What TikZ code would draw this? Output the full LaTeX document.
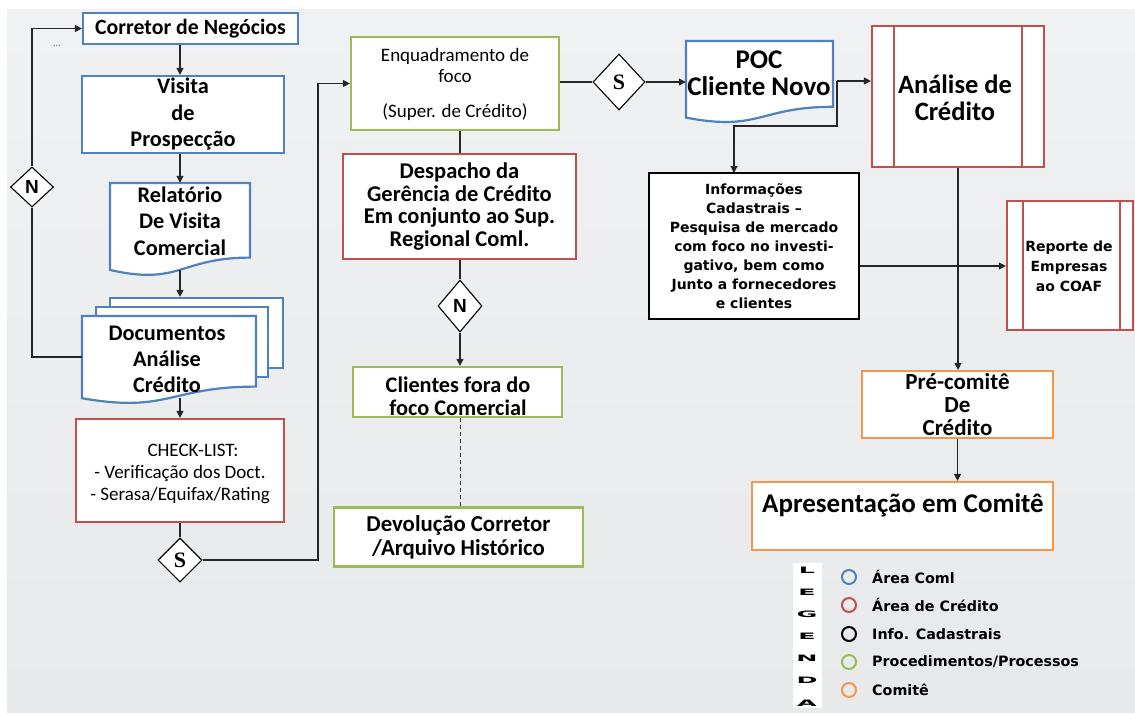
\documentclass[tikz,border=0pt]{standalone}
\usepackage{fontspec}
\setmainfont{Carlito}
\newfontfamily\dvs{DejaVu Sans}
\newfontfamily\lserif{Liberation Serif}
\newfontfamily\lsans{Liberation Sans}
\usetikzlibrary{arrows.meta,shapes.geometric}
\definecolor{bgtop}{HTML}{F0F1F2}
\definecolor{bgbot}{HTML}{E8E9EB}
\definecolor{cblue}{HTML}{4F81BD}
\definecolor{cred}{HTML}{C0504D}
\definecolor{cgreen}{HTML}{9BBB59}
\definecolor{corange}{HTML}{F79646}
\begin{document}
\begin{tikzpicture}[x=1pt,y=-1pt,
  bx/.style={draw=#1, line width=2.2pt, fill=white, inner sep=0pt, align=center},
  ghost/.style={inner sep=0pt, minimum width=#1},
  conn/.style={line width=1.2pt, draw=black!85},
  arr/.style={conn, -{Triangle[length=7pt,width=7pt]}},
  dec/.style={diamond, draw=black, line width=1.1pt, fill=white, inner sep=0pt},
  txt/.style={inner sep=0pt, align=center},
  lgc/.style={circle, draw=#1, line width=2pt, minimum size=14, inner sep=0pt, fill=none},
  lgt/.style={anchor=west, inner sep=0pt, font=\dvs\bfseries\fontsize{14.3}{16}\selectfont},
  lgl/.style={inner sep=0pt, font=\dvs\bfseries\fontsize{11}{11}\selectfont}
]
\useasboundingbox (0,0) rectangle (1135,713);
\fill[white] (0,0) rectangle (1135,713);
\shade[top color=bgtop, bottom color=bgbot] (7,9) rectangle (1135,712);

% ---------- coordinates for routing ----------
\coordinate (colA) at (180,0);
\coordinate (colM) at (460,0);
\coordinate (jx) at (318,0);
\coordinate (pocR) at (837,81);
\coordinate (jy) at (0,126);
\coordinate (infoIn) at (734,173);
\coordinate (jz) at (0,266);
\coordinate (relB) at (180,270);
\coordinate (docB) at (180,398);

% ---------- left column ----------
\node[bx=cblue, minimum width=215, minimum height=31, font=\fontsize{21.8}{24}\selectfont\bfseries] (corretor) at (190.5,28.5) {Corretor de Negócios};
\node[txt, font=\fontsize{10}{10}\selectfont, text=black!60] (dots) at (57,46) {...};

\node[bx=cblue, minimum width=202, minimum height=77, font=\fontsize{22.3}{26.5}\selectfont\bfseries] (visita) at (183,114.5) {Visita\\de\\Prospecção};

% Relatorio (document shape)
\draw[draw=cblue, line width=2.2pt, fill=white] (110,183) -- (250,183) -- (250,257.6) .. controls (180,257.6) and (180,286) .. (110,269.9) -- cycle;
\node[ghost=140, minimum height=93] (relatorio) at (180,229.5) {};
\node[txt, font=\fontsize{22.3}{26.5}\selectfont\bfseries] (relT) at (180,221) {Relatório\\De Visita\\Comercial};

% Documentos (multidocument)
\node[bx=cblue, minimum width=173, minimum height=70] (doc3) at (196.5,333) {};
\node[bx=cblue, minimum width=172, minimum height=70] (doc2) at (182,342) {};
\draw[draw=cblue, line width=2.2pt, fill=white] (82,316) -- (256,316) -- (256,386.6) .. controls (169,386.6) and (169,413.4) .. (82,398.2) -- cycle;
\node[ghost=174, minimum height=82] (documentos) at (169,357) {};
\node[txt, font=\fontsize{22.3}{26}\selectfont\bfseries] (docT) at (167,359) {Documentos\\Análise\\Crédito};

\node[bx=cred, minimum width=208, minimum height=103] (check) at (180,470.5) {};
\node[txt, font=\fontsize{19}{22}\selectfont] (checkT) at (180,474) {\hspace*{26pt}CHECK-LIST:\\- Verificação dos Doct.\\- Serasa/Equifax/Rating};

\node[dec, minimum width=44, minimum height=44, font=\lserif\bfseries\fontsize{22}{22}\selectfont] (sbot) at (180,560) {S};
\node[dec, minimum width=43, minimum height=40, font=\lsans\bfseries\fontsize{19}{19}\selectfont] (nleft) at (32,187) {N};

% ---------- middle column ----------
\node[bx=cgreen, minimum width=208, minimum height=93] (enq) at (455,83.5) {};
\node[txt, font=\fontsize{19}{21}\selectfont] (enqT) at (455,84) {Enquadramento de\\foco\\[14pt](Super. de Crédito)};

\node[dec, minimum width=52, minimum height=56, font=\lserif\bfseries\fontsize{22}{22}\selectfont] (stop) at (619,82) {S};

\node[bx=cred, minimum width=233, minimum height=105, font=\fontsize{22.5}{22.5}\selectfont\bfseries] (despacho) at (459.5,206.5) {Despacho da\\Gerência de Crédito\\Em conjunto ao Sup.\\Regional Coml.};

\node[dec, minimum width=44, minimum height=52, font=\lsans\bfseries\fontsize{19}{19}\selectfont] (nmid) at (460,306) {N};

\node[bx=cgreen, minimum width=209, minimum height=50] (clientes) at (457.5,392) {};
\node[txt, font=\fontsize{22.3}{23}\selectfont\bfseries] (cliT) at (458,396.5) {Clientes fora do\\foco Comercial};

\node[bx=cgreen, minimum width=249, minimum height=59, font=\fontsize{22.8}{24}\selectfont\bfseries] (devol) at (458.5,537) {Devolução Corretor\\/Arquivo Histórico};

% ---------- right part ----------
\draw[draw=cblue, line width=2.2pt, fill=white] (686,41) -- (833,41) -- (833,106.8) .. controls (759.5,106.8) and (759.5,131.8) .. (686,117.6) -- cycle;
\node[ghost=147, minimum height=77] (poc) at (759.5,79.5) {};
\node[txt, font=\fontsize{27}{27}\selectfont\bfseries] (pocT) at (759,73.5) {POC\\Cliente Novo};

\node[bx=cred, minimum width=172, minimum height=141] (analise) at (958,96.5) {};
\draw[draw=cred, line width=2.2pt] (894,26) -- (894,167) (1022,26) -- (1022,167);
\node[txt, font=\fontsize{26.5}{27}\selectfont\bfseries] (anaT) at (955,97.5) {Análise de\\Crédito};

\node[bx=black, minimum width=210, minimum height=146, font=\dvs\bfseries\fontsize{14}{19}\selectfont] (info) at (754,246) {Informações\\Cadastrais –\\Pesquisa de mercado\\com foco no investi-\\gativo, bem como\\Junto a fornecedores\\e clientes};

\node[bx=cred, minimum width=126, minimum height=129] (reporte) at (1070,265.5) {};
\draw[draw=cred, line width=2.2pt] (1023,201) -- (1023,330) (1120,201) -- (1120,330);
\node[txt, font=\dvs\bfseries\fontsize{14}{20}\selectfont] (repT) at (1069,266) {Reporte de\\Empresas\\ao COAF};

\node[bx=corange, minimum width=191, minimum height=67, font=\fontsize{23}{23}\selectfont\bfseries] (pre) at (957.5,404.5) {Pré-comitê\\De\\Crédito};

\node[bx=corange, minimum width=301, minimum height=68] (apres) at (902.5,516) {};
\node[txt, font=\fontsize{27}{28}\selectfont\bfseries] (apresT) at (903,505) {Apresentação em Comitê};

% ---------- connectors ----------
\draw[arr] (corretor.south -| colA) -- (visita.north -| colA);
\draw[arr] (visita.south -| colA) -- (relatorio.north -| colA);
\draw[arr] (relB) -- (doc3.north -| colA);
\draw[arr] (docB) -- (check.north -| colA);
\draw[conn] (check.south -| colA) -- (sbot.north);
\draw[arr] (sbot.east) -- (sbot.east -| jx) -- (enq.west -| jx) -- (enq.west);
\draw[conn] (documentos.west) -| (nleft.south);
\draw[arr] (nleft.north) |- (corretor.west);

\draw[conn] (enq.east |- stop.west) -- (stop.west);
\draw[arr] (stop.east) -- (stop.east -| poc.west);
\draw[arr] (pocR) -- (pocR -| analise.west);
\draw[arr] (pocR) -- (pocR |- jy) -- (infoIn |- jy) -- (infoIn);
\draw[arr] (analise.south) -- (analise.south |- pre.north);
\draw[arr] (info.east |- jz) -- (reporte.west |- jz);
\draw[arr] (pre.south) -- (pre.south |- apres.north);

\draw[conn] (enq.south -| colM) -- (despacho.north -| colM);
\draw[conn] (despacho.south -| colM) -- (nmid.north);
\draw[arr] (nmid.south) -- (clientes.north -| colM);
\draw[line width=1pt, draw=black!80, dash pattern=on 4pt off 3pt] (clientes.south -| colM) -- (devol.north -| colM);

% ---------- legend ----------
\node[fill=white, minimum width=29, minimum height=145, inner sep=0pt] (lgbox) at (807.5,635.5) {};
\node[lgl] (lg1) at (807,570) {\scalebox{2.3}[0.8]{L}};
\node[lgl] (lg2) at (807,592) {\scalebox{2.3}[0.8]{E}};
\node[lgl] (lg3) at (807,614) {\scalebox{2.3}[0.8]{G}};
\node[lgl] (lg4) at (807,636) {\scalebox{2.3}[0.8]{E}};
\node[lgl] (lg5) at (807,658) {\scalebox{2.3}[0.8]{N}};
\node[lgl] (lg6) at (807,680) {\scalebox{2.3}[0.8]{D}};
\node[lgl] (lg7) at (807,703) {\scalebox{2.3}[0.8]{A}};

\node[lgc=cblue] (c1) at (849,577) {};
\node[lgc=cred] (c2) at (849,605) {};
\node[lgc=black] (c3) at (849,634) {};
\node[lgc=cgreen] (c4) at (849,662) {};
\node[lgc=corange] (c5) at (849,690) {};
\node[lgt] (t1) at (872,577) {Área Coml};
\node[lgt] (t2) at (872,605) {Área de Crédito};
\node[lgt] (t3) at (872,634) {Info. Cadastrais};
\node[lgt] (t4) at (872,662) {Procedimentos/Processos};
\node[lgt] (t5) at (872,690) {Comitê};
\end{tikzpicture}
\end{document}
